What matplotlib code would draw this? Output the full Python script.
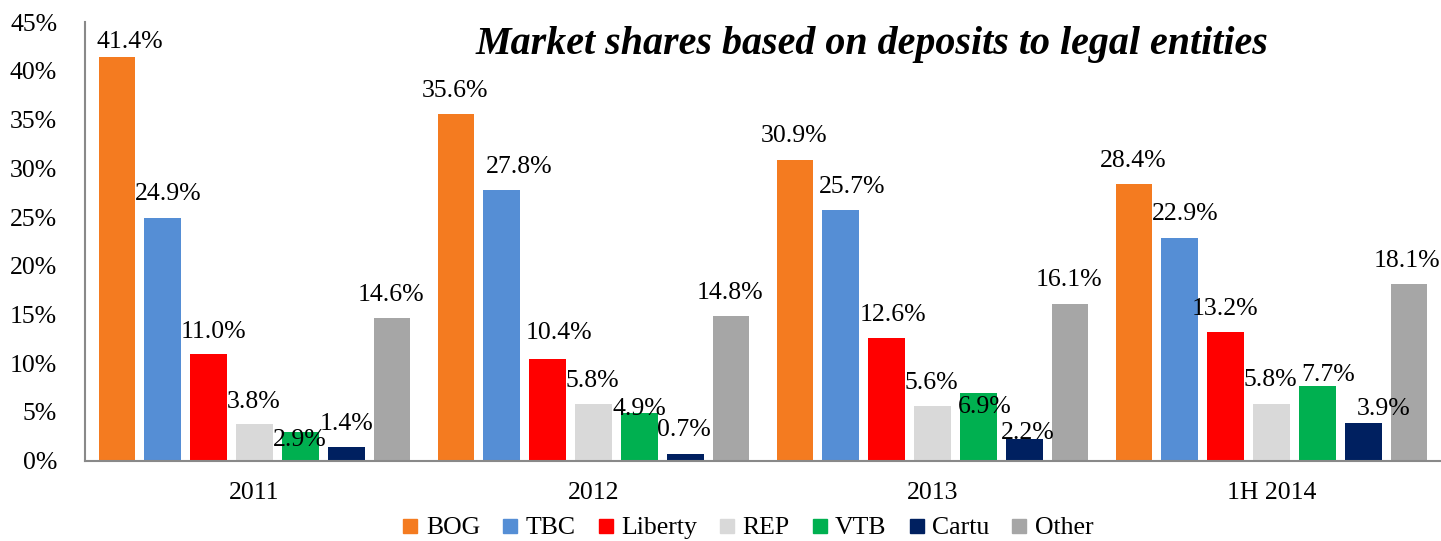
import matplotlib
matplotlib.use("Agg")
import matplotlib.pyplot as plt
from matplotlib.lines import Line2D
import numpy as np

plt.rcParams['font.family'] = ['Liberation Serif', 'DejaVu Serif']

categories = ["2011", "2012", "2013", "1H 2014"]
series = ["BOG", "TBC", "Liberty", "REP", "VTB", "Cartu", "Other"]
bog = [41.4, 35.6, 30.9, 28.4]
tbc = [24.9, 27.8, 25.7, 22.9]
liberty = [11.0, 10.4, 12.6, 13.2]
rep = [3.8, 5.8, 5.6, 5.8]
vtb = [2.9, 4.9, 6.9, 7.7]
cartu = [1.4, 0.7, 2.2, 3.9]
other = [14.6, 14.8, 16.1, 18.1]
values = [bog, tbc, liberty, rep, vtb, cartu, other]
colors = ["#F47B20", "#558ED5", "#FF0000", "#D9D9D9", "#00B050", "#002060", "#A6A6A6"]

# label offsets in pixels (dx, baseline dy) per series, per category (as Excel placed them)
label_dx = [[13, -1, -1, -1], [5, 17, 11, 5], [5, 11, 6, -1], [-1, -1, -1, -1],
            [-1, 0, 6, 11], [0, -1, 4, 20], [-1, -1, -1, -2]]
label_dy = [[9, 17, 18, 17], [18, 17, 17, 18], [16, 20, 17, 17], [16, 17, 17, 18],
            [-14, -2, -20, 5], [17, 18, 0, 8], [17, 17, 18, 17]]

fig = plt.figure(figsize=(14.41, 5.41), dpi=100)
ax = fig.add_axes([85/1441, (541-460.7)/541, (1441-85)/1441, (460.7-22.2)/541])

x = np.arange(len(categories))
step = 45.85/339
width = 36.7/339
for i, (name, vals, col) in enumerate(zip(series, values, colors)):
    pos = x + (i - 3) * step
    ax.bar(pos, vals, width=width, color=col, label=name, zorder=2)
    for j, (p, v) in enumerate(zip(pos, vals)):
        ax.annotate(f"{v:.1f}%", xy=(p, v), xytext=(label_dx[i][j], label_dy[i][j]),
                    textcoords='offset pixels', ha='center', va='baseline',
                    fontsize=18.5, color='black', zorder=3)

ax.set_xlim(-0.5, len(categories) - 0.5)
ax.set_ylim(0, 45)
ax.set_yticks(np.arange(0, 46, 5))
ax.set_yticklabels([f"{t}%" for t in range(0, 46, 5)])
ax.set_xticks(x)
ax.set_xticklabels(categories)
ax.tick_params(axis='y', length=0, pad=20, labelsize=18.5)
ax.tick_params(axis='x', length=0, pad=15, labelsize=18.5)
for s in ['top', 'right']:
    ax.spines[s].set_visible(False)
for s in ['left', 'bottom']:
    ax.spines[s].set_color('#898989')
    ax.spines[s].set_linewidth(1.5)

fig.text(872 / 1441, 1 - 45 / 541, "Market shares based on deposits to legal entities",
         ha='center', va='center',
         fontsize=28.8, fontweight='bold', fontstyle='italic')

handles = [Line2D([0], [0], marker='s', linestyle='none', markersize=9.5,
                  markerfacecolor=c, markeredgecolor=c) for c in colors]
fig.legend(handles, series, loc='center', bbox_to_anchor=(748/1441, 1 - 528/541),
           ncol=7, frameon=False, fontsize=18.5, handlelength=0.6,
           handletextpad=0.3, columnspacing=0.87, borderpad=0)

fig.savefig("out.png", dpi=100)
